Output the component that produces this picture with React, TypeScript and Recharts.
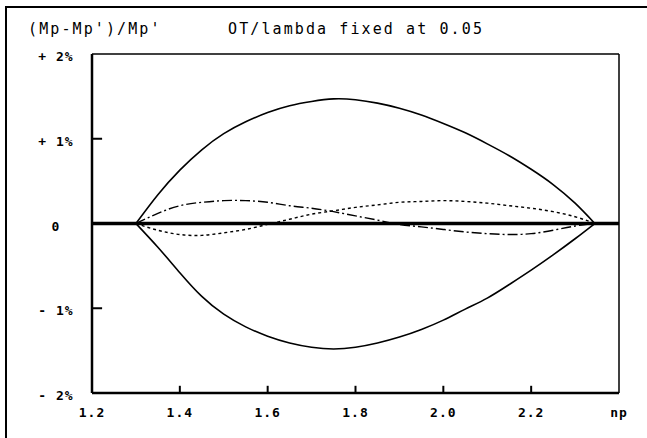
import { LineChart, Line, XAxis, YAxis, ReferenceLine } from 'recharts';

// np values where the deviations were evaluated
const npValues = [1.3, 1.35, 1.4, 1.45, 1.5, 1.55, 1.6, 1.65, 1.7, 1.75, 1.8, 1.85, 1.9, 1.95, 2.0, 2.05, 2.1, 2.15, 2.2, 2.25, 2.3, 2.345];

// (Mp-Mp')/Mp' in percent
const upperBound = [0, 0.34, 0.63, 0.87, 1.06, 1.2, 1.31, 1.39, 1.44, 1.47, 1.46, 1.42, 1.36, 1.28, 1.18, 1.07, 0.94, 0.8, 0.64, 0.46, 0.24, 0];
const lowerBound = [0, -0.28, -0.58, -0.86, -1.07, -1.22, -1.33, -1.41, -1.46, -1.48, -1.46, -1.41, -1.34, -1.25, -1.14, -1.01, -0.88, -0.72, -0.55, -0.37, -0.18, 0];
const dashDotSeries = [0, 0.12, 0.21, 0.25, 0.27, 0.27, 0.25, 0.21, 0.18, 0.14, 0.09, 0.04, -0.01, -0.04, -0.07, -0.1, -0.12, -0.13, -0.12, -0.08, -0.03, 0];
const dottedSeries = [0, -0.08, -0.13, -0.14, -0.11, -0.07, -0.01, 0.05, 0.11, 0.15, 0.19, 0.22, 0.25, 0.26, 0.27, 0.26, 0.24, 0.21, 0.18, 0.14, 0.08, 0];

const xTicks = [1.2, 1.4, 1.6, 1.8, 2.0, 2.2, 2.4];
const xTickLabels = ['1.2', '1.4', '1.6', '1.8', '2.0', '2.2', 'np'];
const yTicks = [2, 1, 0, -1, -2];
const yTickLabels = ['+ 2%', '+ 1%', '0', '- 1%', '- 2%'];

const data = npValues.map((np, i) => ({
  np,
  upper: upperBound[i],
  lower: lowerBound[i],
  dashDot: dashDotSeries[i],
  dotted: dottedSeries[i],
}));

const FONT = '"DejaVu Sans Mono", monospace';

const X_MIN = 1.2;
const X_MAX = 2.4;
const Y_MIN = -2;
const Y_MAX = 2;
// inward tick mark lengths, in axis units
const X_TICK_LEN = 0.085; // % (vertical marks on the np axis)
const Y_TICK_LEN = 0.023; // np (horizontal marks on the % axis)

const XTick = ({ x, y, payload }: any) => (
  <text x={x} y={y + 24} textAnchor="middle" fontFamily={FONT} fontSize={13} fontWeight="bold" letterSpacing={1} fill="#000">
    {xTickLabels[xTicks.indexOf(payload.value)]}
  </text>
);

const YTick = ({ x, y, payload }: any) => (
  <text x={x - 36} y={y + 7} textAnchor="middle" fontFamily={FONT} fontSize={13} fontWeight="bold" letterSpacing={1} fill="#000">
    {yTickLabels[yTicks.indexOf(payload.value)]}
  </text>
);

const titleStyle = {
  position: 'absolute' as const,
  top: 20,
  fontFamily: FONT,
  fontSize: 15,
  lineHeight: '18px',
  letterSpacing: 2.1,
  color: '#000',
  whiteSpace: 'pre' as const,
};

export default function App() {
  return (
    <div style={{ position: 'fixed', left: 0, top: 0, width: 647, height: 438, background: '#fff' }}>
      {/* outer frame */}
      <div style={{ position: 'absolute', left: 5, top: 6, width: 2, height: 432, background: '#000' }} />
      <div style={{ position: 'absolute', left: 5, top: 6, width: 642, height: 2, background: '#000' }} />

      <div style={{ ...titleStyle, left: 28 }}>(Mp-Mp')/Mp'</div>
      <div style={{ ...titleStyle, left: 228 }}>OT/lambda fixed at 0.05</div>

      <div style={{ position: 'absolute', left: 0, top: 0 }}>
        <LineChart width={647} height={438} data={data} margin={{ top: 54, right: 28, bottom: 15, left: 32 }}>
          <XAxis
            type="number"
            dataKey="np"
            domain={[X_MIN, X_MAX]}
            ticks={xTicks}
            interval={0}
            height={30}
            tickSize={0}
            tickMargin={0}
            tickLine={false}
            axisLine={{ stroke: '#000', strokeWidth: 2.5 }}
            tick={<XTick />}
          />
          <YAxis
            type="number"
            domain={[Y_MIN, Y_MAX]}
            ticks={yTicks}
            interval={0}
            width={60}
            tickSize={0}
            tickMargin={0}
            tickLine={false}
            axisLine={{ stroke: '#000', strokeWidth: 2.5 }}
            tick={<YTick />}
          />
          <ReferenceLine y={Y_MAX} stroke="#000" strokeWidth={1.5} />
          <ReferenceLine x={X_MAX} stroke="#000" strokeWidth={1.5} />
          {xTicks.slice(1, -1).map((t) => (
            <ReferenceLine
              key={`xt-${t}`}
              segment={[{ x: t, y: Y_MIN }, { x: t, y: Y_MIN + X_TICK_LEN }]}
              stroke="#000"
              strokeWidth={2}
            />
          ))}
          {yTicks.slice(1, -1).map((t) => (
            <ReferenceLine
              key={`yt-${t}`}
              segment={[{ x: X_MIN, y: t }, { x: X_MIN + Y_TICK_LEN, y: t }]}
              stroke="#000"
              strokeWidth={2}
            />
          ))}
          <ReferenceLine y={0} stroke="#000" strokeWidth={3.5} />
          <Line type="natural" dataKey="upper" stroke="#000" strokeWidth={1.6} dot={false} isAnimationActive={false} />
          <Line type="natural" dataKey="lower" stroke="#000" strokeWidth={1.6} dot={false} isAnimationActive={false} />
          <Line
            type="natural"
            dataKey="dashDot"
            stroke="#000"
            strokeWidth={1.4}
            strokeDasharray="10 3 2 3"
            dot={false}
            isAnimationActive={false}
          />
          <Line
            type="natural"
            dataKey="dotted"
            stroke="#000"
            strokeWidth={1.4}
            strokeDasharray="3 3"
            dot={false}
            isAnimationActive={false}
          />
        </LineChart>
      </div>
    </div>
  );
}
